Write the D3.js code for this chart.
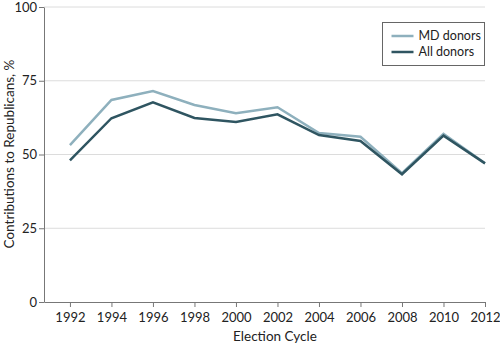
<!DOCTYPE html>
<html>
<head>
<meta charset="utf-8">
<script src="https://cdn.jsdelivr.net/npm/d3@7"></script>
<style>
  body { margin: 0; background: #fff; }
  text { font-family: "Lato", "Open Sans", sans-serif; fill: #222; }
</style>
</head>
<body>
<div id="chart"></div>
<script>
const years = [1992, 1994, 1996, 1998, 2000, 2002, 2004, 2006, 2008, 2010, 2012];
const mdDonors = [53.2, 68.5, 71.5, 66.8, 64.0, 66.0, 57.3, 56.0, 43.7, 57.0, 47.0];
const allDonors = [48.0, 62.3, 67.7, 62.4, 61.0, 63.6, 56.6, 54.6, 43.3, 56.4, 47.0];
const yTicks = [0, 25, 50, 75, 100];
const seriesNames = ['MD donors', 'All donors'];

const W = 500, H = 346;
const plotL = 44, plotR = 485, plotT = 7, plotB = 302;

const svg = d3.select('#chart').append('svg')
  .attr('width', W).attr('height', H);

const x = d3.scaleLinear().domain([1990.75, 2012]).range([plotL, plotR]);
const y = d3.scaleLinear().domain([0, 100]).range([plotB, plotT]);

// gridlines
svg.append('g')
  .selectAll('line')
  .data(yTicks.filter(d => d > 0))
  .join('line')
  .attr('x1', plotL).attr('x2', plotR)
  .attr('y1', d => y(d)).attr('y2', d => y(d))
  .attr('stroke', '#dcdcdc').attr('stroke-width', 1);

const xAxis = d3.axisBottom(x).tickValues(years).tickFormat(d3.format('d')).tickSize(5).tickSizeOuter(0);
const yAxis = d3.axisLeft(y).tickValues(yTicks).tickSize(5).tickSizeOuter(0);

const gx = svg.append('g')
  .attr('transform', `translate(0, ${plotB})`)
  .call(xAxis);
gx.select('.domain').attr('stroke', '#777');
gx.selectAll('.tick line').attr('stroke', '#777');
gx.selectAll('.tick text').attr('font-size', 13).attr('y', 11).attr('fill', '#222');

const gy = svg.append('g')
  .attr('transform', `translate(${plotL}, 0)`)
  .call(yAxis);
gy.select('.domain').attr('stroke', '#777');
gy.selectAll('.tick line').attr('stroke', '#777');
gy.selectAll('.tick text').attr('font-size', 13).attr('x', -7).attr('fill', '#222');

svg.append('text')
  .attr('x', 275).attr('y', 341)
  .attr('text-anchor', 'middle').attr('font-size', 13.5)
  .text('Election Cycle');

svg.append('text')
  .attr('transform', `translate(14, 154) rotate(-90)`)
  .attr('text-anchor', 'middle').attr('font-size', 13.5)
  .text('Contributions to Republicans, %');

const colors = ['#8eb0bd', '#2f5561'];
const line = d3.line().x((d, i) => x(years[i])).y(d => y(d));

[mdDonors, allDonors].forEach((s, i) => {
  svg.append('path').datum(s)
    .attr('fill', 'none')
    .attr('stroke', colors[i])
    .attr('stroke-width', 2.5)
    .attr('stroke-linejoin', 'miter')
    .attr('d', line);
});

// legend
const lg = svg.append('g').attr('transform', 'translate(382.5, 22.5)');
lg.append('rect').attr('width', 102).attr('height', 43)
  .attr('fill', '#fff').attr('stroke', '#666').attr('stroke-width', 1);
seriesNames.forEach((n, i) => {
  const yy = 13.5 + i * 16;
  lg.append('line').attr('x1', 9).attr('x2', 31).attr('y1', yy).attr('y2', yy)
    .attr('stroke', colors[i]).attr('stroke-width', 2.5);
  lg.append('text').attr('x', 36).attr('y', yy).attr('dy', '0.35em')
    .attr('font-size', 12.5).text(n);
});
</script>
</body>
</html>
